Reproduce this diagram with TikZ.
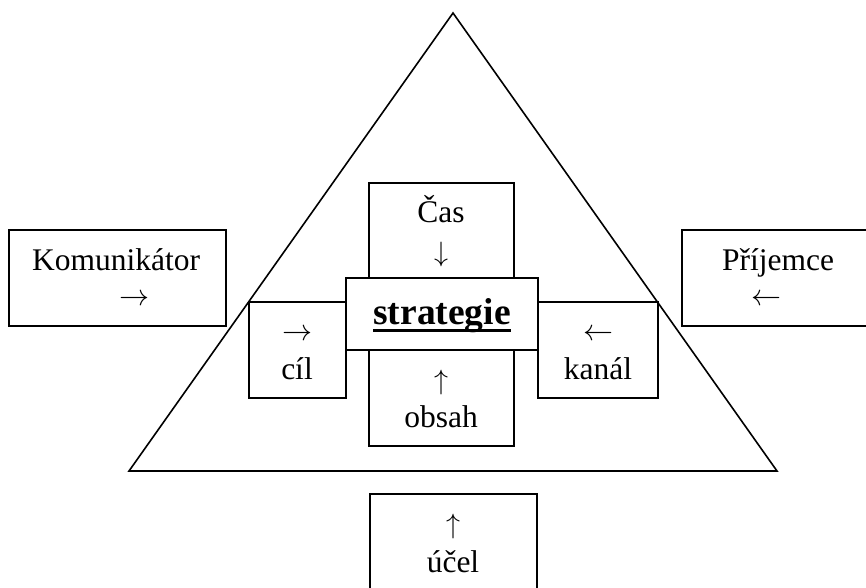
\documentclass[tikz,border=0pt]{standalone}
\usepackage{fontspec}
\setmainfont{Liberation Serif}
\newcommand{\harr}[1]{\scalebox{3}{$#1$}}
\newcommand{\varr}[1]{\scalebox{2.8}{$#1$}}
\begin{document}
\begin{tikzpicture}[x=1pt,y=-1pt,
  box/.style={draw=black,fill=white,line width=1.6pt},
  txt/.style={inner sep=0pt,font=\fontsize{31.5}{36}\selectfont},
  arr/.style={inner sep=0pt,font=\normalsize},
  btxt/.style={inner sep=0pt,font=\fontsize{37.5}{42}\selectfont\bfseries}]
\useasboundingbox (0,0) rectangle (866,587);
% triangle
\coordinate (apex) at (453,13);
\coordinate (bl) at (129,471);
\coordinate (br) at (777,471);
\draw[line width=1.6pt,line join=miter] (apex) -- (bl) -- (br) -- cycle;
% outer boxes
\draw[box] (9,230) rectangle (226,326) node[pos=0.5] (kom) {};
\draw[box] (682,230) rectangle (880,326) node[pos=0.5] (pri) {};
\draw[box] (370,494) rectangle (537,600) node[pos=0.5] (uce) {};
% inner boxes
\draw[box] (369,183) rectangle (514,290) node[pos=0.5] (cas) {};
\draw[box] (369,340) rectangle (514,446) node[pos=0.5] (obs) {};
\draw[box] (249,302) rectangle (346,398) node[pos=0.5] (cil) {};
\draw[box] (538,302) rectangle (658,398) node[pos=0.5] (kan) {};
\draw[box] (346,278) rectangle (538,350) node[pos=0.5] (str) {};
% texts
\node[txt,anchor=base] (kt) at (116,270) {Komunikátor};
\node[arr] (ka) at (134,300) {\harr{\rightarrow}};
\node[txt,anchor=base] (pt) at (778,270) {Příjemce};
\node[arr] (pa) at (766,300) {\harr{\leftarrow}};
\node[txt,anchor=base] (ct) at (441,222) {Čas};
\node[arr] (ca) at (441,254) {\varr{\downarrow}};
\node[btxt,anchor=base] (st) at (442,324) {strategie};
\draw[line width=2.6pt] ([yshift=-6.5pt]st.base west) -- ([yshift=-6.5pt]st.base east);
\node[arr] (cla) at (297,335) {\harr{\rightarrow}};
\node[txt,anchor=base] (clt) at (297,379) {cíl};
\node[arr] (kna) at (598,335) {\harr{\leftarrow}};
\node[txt,anchor=base] (knt) at (598,379) {kanál};
\node[arr] (oa) at (441,382) {\varr{\uparrow}};
\node[txt,anchor=base] (ot) at (441,427) {obsah};
\node[arr] (ua) at (453,526) {\varr{\uparrow}};
\node[txt,anchor=base] (ut) at (453,572) {účel};
\end{tikzpicture}
\end{document}
